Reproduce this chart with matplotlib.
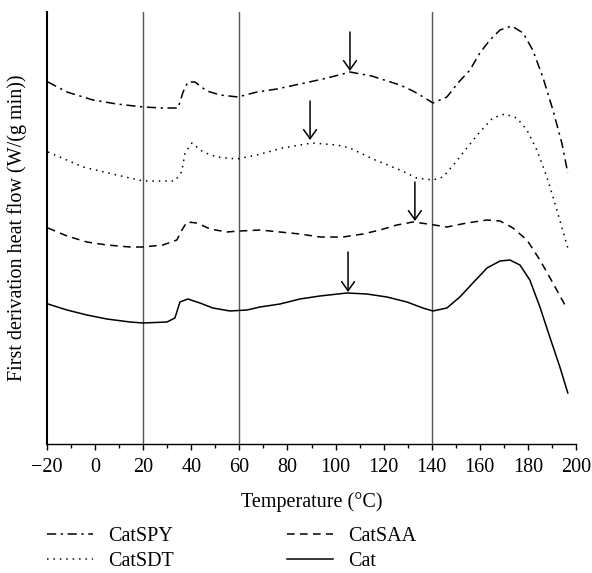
import numpy as np
import matplotlib
matplotlib.use("Agg")
import matplotlib.pyplot as plt
from matplotlib.ticker import MultipleLocator
from matplotlib.lines import Line2D

t_spy = [-19.6, -11.7, -0.9, 9, 20, 28.2, 34.5, 36.6, 38.6, 41.5, 46.5, 52, 59.4, 67.3,
         75.6, 85.2, 94.8, 103, 106, 115, 126.8, 132.2, 137.2, 140.5, 146.3, 150.9,
         155.9, 160, 164.2, 168.4, 173.3, 178, 182, 186.2, 190.4, 194.1, 196.6]
y_spy = [362, 352, 344, 340, 337, 336, 336, 352, 362, 362, 353, 349, 347, 352,
         355, 360, 365, 370, 372, 368, 359, 353, 346, 341, 347, 361,
         374, 391, 404, 414, 418, 411, 394, 367, 334, 301, 271]

t_sdt = [-19.6, -5, 9, 20, 22.8, 33.2, 36, 37.4, 40.3, 44.9, 50.7, 59, 67.3, 78, 90.2,
         100.6, 106, 115.5, 126.8, 133.8, 140.5, 144.7, 149.7, 154.6, 160, 165.4,
         170.4, 175.4, 179.6, 183.7, 187.9, 191.2, 196.6]
y_sdt = [292, 277, 269, 263, 263, 263, 272, 291, 301, 292, 287, 285, 289, 296, 301,
         299, 296, 285, 274, 266, 264, 267, 281, 296, 312, 326,
         330, 326, 314, 294, 267, 241, 196]

t_saa = [-19.6, -11.7, -3.4, 4.9, 14.5, 19.9, 28.2, 34, 36.1, 38.2, 42.4, 47.8, 54.8,
         60.2, 68.6, 76.9, 85.2, 93.5, 103.1, 111.4, 118.5, 125.5, 132.2, 138.4, 146.3,
         154.6, 163, 168.4, 173.8, 179.6, 185, 190.4, 195.4]
y_saa = [216, 208, 202, 199, 197, 197, 199, 204, 214, 222, 221, 215, 212,
         213, 214, 212, 210, 207, 207, 210, 214, 219, 222, 220, 217,
         221, 224, 223, 216, 204, 184, 161, 139]

t_cat = [-19.6, -11.7, -3.4, 4.9, 14.5, 19.9, 29.9, 33.2, 35.3, 38.6, 43.6, 49, 56.1,
         63.2, 68.6, 76.9, 85.2, 93.5, 104.7, 113, 121.4, 129.7, 136.3, 140.5, 146.3,
         151.7, 157.1, 163, 168.4, 172.5, 176.7, 180.8, 185, 189.1, 193.3, 196.6]
y_cat = [140, 134, 129, 125, 122, 121, 122, 126, 142, 145, 141, 136, 133,
         134, 137, 140, 145, 148, 151, 150, 147, 142, 136, 133, 136,
         147, 161, 176, 183, 184, 179, 164, 137, 107, 77, 51]

# arrows marking the broad maxima: (temperature, tail, head)
arrow_t = [106, 89.4, 133, 105.2]
arrow_top = [412, 343, 262, 192]
arrow_tip = [373, 304, 223, 152]

ref_lines = [20, 60, 140]

plt.rcParams["font.family"] = ["Liberation Serif", "DejaVu Serif"]
plt.rcParams["font.size"] = 14.5

fig = plt.figure(figsize=(5.92, 5.73), dpi=100)
ax = fig.add_axes([47 / 592, 1 - 444 / 573, 529 / 592, 432 / 573])

for x in ref_lines:
    ax.axvline(x, color="#555555", lw=1.0, zorder=1)

styles = {
    "CatSPY": (0, (6, 3, 1.5, 3)),
    "CatSDT": (0, (1, 3.2)),
    "CatSAA": (0, (5, 3.5)),
    "Cat": "-",
}
ax.plot(t_spy, y_spy, color="black", lw=1.1, ls=styles["CatSPY"])
ax.plot(t_sdt, y_sdt, color="black", lw=1.1, ls=styles["CatSDT"])
ax.plot(t_saa, y_saa, color="black", lw=1.1, ls=styles["CatSAA"])
ax.plot(t_cat, y_cat, color="black", lw=1.1, ls=styles["Cat"])

for t, a, b in zip(arrow_t, arrow_top, arrow_tip):
    ax.annotate("", xy=(t, b), xytext=(t, a),
                arrowprops=dict(arrowstyle="->,head_width=0.32,head_length=0.45",
                                lw=1.1, color="black", shrinkA=0, shrinkB=0))

ax.set_xlim(-20, 200)
ax.set_ylim(0, 432)
ax.xaxis.set_minor_locator(MultipleLocator(10))
ax.set_xticks(range(-20, 201, 20))
ax.set_xticklabels(["\u221220"] + [str(v) for v in range(0, 201, 20)])
ax.tick_params(axis="x", which="major", direction="out", length=4, width=1, pad=6)
ax.tick_params(axis="x", which="minor", direction="out", length=3, width=1)
ax.set_yticks([])
for s in ["top", "right"]:
    ax.spines[s].set_visible(False)
ax.spines["left"].set_linewidth(1.5)
ax.spines["bottom"].set_linewidth(1.0)

ax.set_xlabel("Temperature (\u00b0C)")
ax.xaxis.set_label_coords(0.5, -0.112)
ax.set_ylabel("First derivation heat flow (W/(g min))")
ax.yaxis.set_label_coords(-0.038, 0.5)

def handle(name):
    return Line2D([], [], color="black", lw=1.1, ls=styles[name])

common = dict(frameon=False, borderpad=0, borderaxespad=0, handlelength=2.3,
              handletextpad=0.75, labelspacing=0.3, loc="center left")
fig.legend([handle("CatSPY"), handle("CatSDT")], ["CatSPY", "CatSDT"],
           bbox_to_anchor=(47 / 592, 1 - 549 / 573), **common)
fig.legend([handle("CatSAA"), handle("Cat")], ["CatSAA", "Cat"],
           bbox_to_anchor=(287 / 592, 1 - 549 / 573), **common)

fig.savefig("out.png", dpi=100)
